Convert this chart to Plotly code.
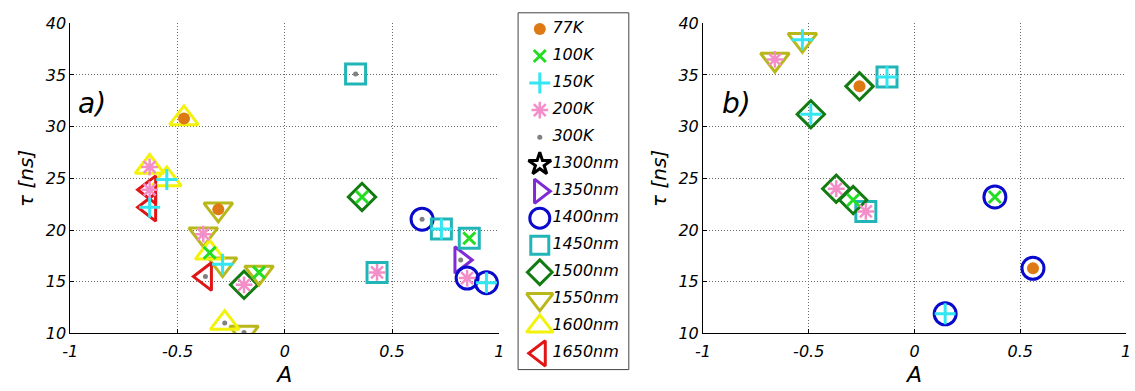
import plotly.graph_objects as go

# ---------------- data ----------------
temps = [77, 100, 150, 200, 300]
temp_labels = ["77K", "100K", "150K", "200K", "300K"]
wavelengths = [1300, 1350, 1400, 1450, 1500, 1550, 1600, 1650]
wl_labels = ["1300nm", "1350nm", "1400nm", "1450nm", "1500nm", "1550nm", "1600nm", "1650nm"]

# panel a)
a_A = [-0.47, -0.63, -0.55, -0.63, -0.63, -0.31, -0.38, -0.35, -0.29, -0.37, -0.19, -0.12,
       -0.28, -0.19, 0.33, 0.36, 0.64, 0.73, 0.86, 0.82, 0.43, 0.85, 0.94]
a_tau = [30.8, 26.1, 24.9, 23.9, 22.2, 22.0, 19.6, 17.8, 16.7, 15.5, 14.7, 15.9,
         11.0, 10.1, 35.1, 23.2, 21.05, 20.1, 19.2, 17.1, 15.9, 15.35, 14.9]
a_wl = [1600, 1600, 1600, 1650, 1650, 1550, 1550, 1600, 1550, 1650, 1500, 1550,
        1600, 1550, 1450, 1500, 1400, 1450, 1450, 1350, 1450, 1400, 1400]
a_T = [77, 200, 150, 200, 150, 77, 200, 100, 150, 300, 200, 100,
       300, 300, 300, 100, 300, 150, 100, 300, 200, 200, 150]

# panel b)
b_A = [-0.66, -0.53, -0.26, -0.13, -0.49, -0.37, -0.29, -0.23, 0.38, 0.56, 0.145]
b_tau = [36.5, 38.4, 33.9, 34.8, 31.2, 24.0, 22.9, 21.8, 23.2, 16.3, 11.9]
b_wl = [1550, 1550, 1500, 1450, 1500, 1500, 1500, 1450, 1400, 1400, 1400]
b_T = [200, 150, 77, 150, 150, 200, 100, 200, 100, 77, 150]

# ---------------- styles ----------------
wl_style = {
    1300: dict(symbol="star-open", size=19, color="#000000"),
    1350: dict(symbol="triangle-right-open", size=23, color="#7f2ad4"),
    1400: dict(symbol="circle-open", size=22, color="#0a0acc"),
    1450: dict(symbol="square-open", size=20, color="#22b5b8"),
    1500: dict(symbol="diamond-open", size=21, color="#127c12"),
    1550: dict(symbol="triangle-down-open", size=25, color="#b8b81a"),
    1600: dict(symbol="triangle-up-open", size=25, color="#f2f20a"),
    1650: dict(symbol="triangle-left-open", size=24, color="#e01515"),
}
temp_style = {
    77: dict(symbol="circle", size=12, color="#dd7a14", lw=0),
    100: dict(symbol="x-thin", size=12, color="#22dd22", lw=3),
    150: dict(symbol="cross-thin", size=15, color="#33e6f2", lw=3),
    200: dict(symbol="asterisk", size=14, color="#f38ec8", lw=2.5),
    300: dict(symbol="circle", size=5, color="#808080", lw=0),
}

FONT = "DejaVu Sans"
W, H = 1135, 391

fig = go.Figure()


def add_panel(A, tau, wl, T, xa, ya):
    for w in wavelengths:
        idx = [i for i, v in enumerate(wl) if v == w]
        if not idx:
            continue
        s = wl_style[w]
        fig.add_trace(go.Scatter(
            x=[A[i] for i in idx], y=[tau[i] for i in idx], mode="markers",
            marker=dict(symbol=s["symbol"], size=s["size"], color=s["color"],
                        line=dict(color=s["color"], width=3)),
            xaxis=xa, yaxis=ya, showlegend=False, hoverinfo="skip"))
    for t in temps:
        idx = [i for i, v in enumerate(T) if v == t]
        if not idx:
            continue
        s = temp_style[t]
        fig.add_trace(go.Scatter(
            x=[A[i] for i in idx], y=[tau[i] for i in idx], mode="markers",
            marker=dict(symbol=s["symbol"], size=s["size"], color=s["color"],
                        line=dict(color=s["color"], width=s["lw"])),
            xaxis=xa, yaxis=ya, showlegend=False, hoverinfo="skip"))


add_panel(a_A, a_tau, a_wl, a_T, "x", "y")
add_panel(b_A, b_tau, b_wl, b_T, "x2", "y2")

# ---------------- legend drawn on its own axes ----------------
leg_labels = temp_labels + wl_labels
leg_styles = [temp_style[t] for t in temps] + [wl_style[w] for w in wavelengths]
for i, (lab, s) in enumerate(zip(leg_labels, leg_styles)):
    if "lw" in s:
        lw = s["lw"]
        size = s["size"]
    else:
        lw = 3
        size = s["size"] - 2
    fig.add_trace(go.Scatter(
        x=[0.196], y=[i], mode="markers",
        marker=dict(symbol=s["symbol"], size=size, color=s["color"],
                    line=dict(color=s["color"], width=lw)),
        xaxis="x3", yaxis="y3", showlegend=False, hoverinfo="skip"))
fig.add_trace(go.Scatter(
    x=[0.31] * len(leg_labels), y=list(range(len(leg_labels))), mode="text",
    text=leg_labels, textposition="middle right",
    textfont=dict(family=FONT, size=16, color="black", style="italic"),
    xaxis="x3", yaxis="y3", showlegend=False, hoverinfo="skip"))

# ---------------- layout ----------------
ydom = [1 - 341 / H, 1 - 15 / H]
GRID = dict(showgrid=True, gridcolor="#6a6a6a", griddash="1px,2px", gridwidth=1)
common_x = dict(range=[-1, 1], tickvals=[-1, -0.5, 0, 0.5, 1],
                ticktext=["-1", "-0.5", "0", "0.5", "1"],
                zeroline=False, showline=True, linecolor="black", linewidth=1,
                ticks="inside", ticklen=4, tickcolor="black", ticklabelstandoff=3,
                tickfont=dict(family=FONT, size=16, color="black", style="italic"),
                title=dict(text="A", font=dict(family=FONT, size=22, color="black", style="italic"),
                           standoff=6), **GRID)
common_y = dict(range=[10, 40], tickvals=[10, 15, 20, 25, 30, 35, 40],
                zeroline=False, showline=True, linecolor="black", linewidth=1,
                ticks="inside", ticklen=4, tickcolor="black",
                tickfont=dict(family=FONT, size=16, color="black", style="italic"),
                title=dict(text="τ [ns]", font=dict(family=FONT, size=20, color="black", style="italic"),
                           standoff=6), **GRID)

fig.update_layout(
    width=W, height=H,
    margin=dict(l=0, r=0, t=0, b=0),
    paper_bgcolor="white", plot_bgcolor="white",
    font=dict(family=FONT, size=16, color="black"),
    xaxis=dict(domain=[63 / W, 497 / W], anchor="y", **common_x),
    yaxis=dict(domain=ydom, anchor="x", **common_y),
    xaxis2=dict(domain=[703 / W, 1131 / W], anchor="y2", **common_x),
    yaxis2=dict(domain=ydom, anchor="x2", **common_y),
    xaxis3=dict(domain=[516 / W, 628 / W], anchor="y3", range=[0, 1], visible=False),
    yaxis3=dict(domain=[1 - 379 / H, 1 - 4 / H], anchor="x3", range=[12.6, -0.6], visible=False),
    shapes=[dict(type="rect", xref="paper", yref="paper",
                 x0=516 / W, x1=628 / W, y0=1 - 379 / H, y1=1 - 4 / H,
                 line=dict(color="#444444", width=1), fillcolor="white", layer="below")],
    annotations=[
        dict(text="a)", x=-0.9, y=32.2, xref="x", yref="y", showarrow=False,
             font=dict(family=FONT, size=28, color="black", style="italic")),
        dict(text="b)", x=-0.84, y=32.2, xref="x2", yref="y2", showarrow=False,
             font=dict(family=FONT, size=28, color="black", style="italic")),
    ],
)

fig.write_html("out.html")
